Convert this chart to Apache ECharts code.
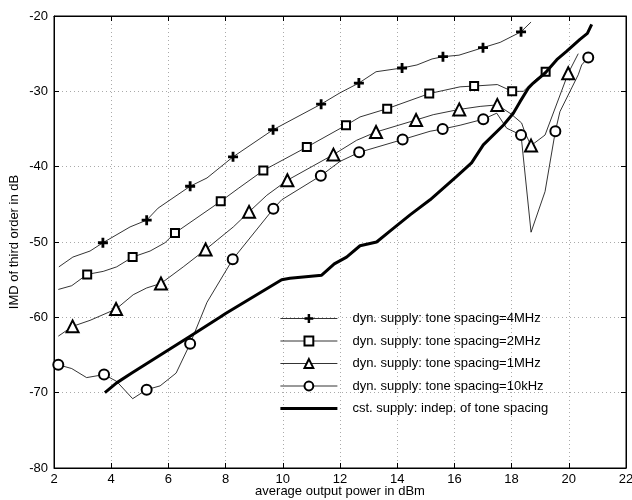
<!DOCTYPE html>
<html>
<head>
<meta charset="utf-8">
<script src="https://cdn.jsdelivr.net/npm/echarts@6/dist/echarts.min.js"></script>
<style>
  html, body { margin: 0; padding: 0; background: #fff; }
  #chart { width: 632px; height: 500px; }
</style>
</head>
<body>
<div id="chart"></div>
<script>
// IMD vs puissance de sortie : 4 courbes "dyn. supply" + 1 courbe "cst. supply"
const xTicks = [2, 4, 6, 8, 10, 12, 14, 16, 18, 20, 22];
const yTicks = [-80, -70, -60, -50, -40, -30, -20];

const noms = [
  "dyn. supply: tone spacing=4MHz",
  "dyn. supply: tone spacing=2MHz",
  "dyn. supply: tone spacing=1MHz",
  "dyn. supply: tone spacing=10kHz",
  "cst. supply: indep. of tone spacing",
];

// 4 MHz (+)
const x4 = [2.17, 2.66, 3.26, 3.71, 4.66, 5.24, 5.64, 6.76, 7.35, 8.26, 9.66, 11.34, 12.0, 12.66, 13.26, 14.17, 14.69, 15.22, 15.6, 16.16, 17.0, 17.6, 18.33, 18.68];
const y4 = [-53.3, -52.0, -51.2, -50.1, -48.0, -47.1, -45.5, -42.6, -41.5, -38.7, -35.1, -31.7, -30.2, -28.9, -27.4, -26.9, -26.5, -25.7, -25.4, -25.2, -24.2, -23.5, -22.1, -20.8];
const m4 = [0, 0, 0, 1, 0, 1, 0, 1, 0, 1, 1, 1, 0, 1, 0, 1, 0, 0, 1, 0, 1, 0, 1, 0];

// 2 MHz (carrés)
const x2 = [2.15, 2.62, 3.16, 3.72, 4.19, 4.75, 5.36, 5.88, 6.23, 7.83, 8.44, 9.32, 10.84, 12.21, 12.7, 13.65, 15.12, 16.2, 16.69, 17.5, 18.02, 18.41, 18.76, 19.19];
const y2 = [-56.3, -55.8, -54.3, -53.9, -53.3, -52.0, -51.2, -50.1, -48.8, -44.6, -42.9, -40.5, -37.4, -34.5, -33.4, -32.3, -30.3, -29.4, -29.3, -29.1, -30.0, -30.0, -28.7, -27.4];
const m2 = [0, 0, 1, 0, 0, 1, 0, 0, 1, 1, 0, 1, 1, 1, 0, 1, 1, 0, 1, 0, 1, 0, 0, 1];

// 1 MHz (triangles)
const x1 = [2.15, 2.65, 3.26, 4.17, 4.77, 5.24, 5.74, 6.52, 7.3, 8.27, 8.82, 9.44, 10.16, 11.77, 12.58, 13.26, 14.66, 15.26, 16.17, 16.9, 17.5, 17.98, 18.35, 18.47, 18.68, 19.17, 19.98, 20.33];
const y1 = [-62.5, -61.2, -60.4, -58.9, -57.0, -56.1, -55.5, -53.3, -51.0, -48.0, -46.0, -43.8, -41.8, -38.4, -36.5, -35.4, -33.8, -33.1, -32.4, -32.0, -31.8, -33.0, -34.2, -35.5, -37.2, -35.8, -27.6, -25.0];
const m1 = [0, 1, 0, 1, 0, 0, 1, 0, 1, 0, 1, 0, 1, 1, 0, 1, 1, 0, 1, 0, 1, 0, 0, 0, 1, 0, 1, 0];

// 10 kHz (cercles)
const xc = [2.15, 2.62, 3.14, 3.75, 4.19, 4.75, 5.24, 5.71, 6.27, 6.76, 7.35, 8.25, 9.67, 9.96, 11.33, 12.0, 12.67, 14.19, 15.15, 15.59, 16.2, 17.01, 17.48, 17.83, 18.33, 18.68, 19.17, 19.53, 19.69, 20.33, 20.45, 20.68];
const yc = [-66.3, -66.8, -68.0, -67.6, -68.5, -70.8, -69.6, -69.1, -67.4, -63.5, -58.0, -52.3, -45.6, -44.4, -41.2, -39.3, -38.1, -36.4, -35.3, -35.0, -34.5, -33.7, -32.9, -34.9, -35.8, -48.7, -43.3, -35.3, -32.7, -27.8, -26.5, -25.5];
const mc = [1, 0, 0, 1, 0, 0, 1, 0, 0, 1, 0, 1, 1, 0, 1, 0, 1, 1, 0, 1, 0, 1, 0, 0, 1, 0, 0, 1, 0, 0, 0, 1];

// alimentation constante (trait épais)
const xt = [3.78, 4.19, 4.72, 6.76, 7.8, 8.0, 9.96, 10.25, 11.36, 11.8, 12.23, 12.7, 13.28, 13.8, 14.45, 15.15, 16.08, 16.6, 17.01, 17.71, 18.06, 18.29, 18.6, 18.76, 19.19, 19.58, 19.92, 20.39, 20.65, 20.8];
const yt = [-70.0, -68.7, -67.4, -62.5, -60.0, -59.5, -55.0, -54.8, -54.4, -52.9, -52.0, -50.5, -50.0, -48.4, -46.4, -44.4, -41.3, -39.5, -37.1, -34.5, -32.9, -31.4, -29.5, -28.9, -27.5, -25.8, -24.7, -23.1, -22.3, -21.1];

const police = "'Liberation Sans', Arial, Helvetica, sans-serif";
const plus = "path://M3.6,0H6.4V3.6H10V6.4H6.4V10H3.6V6.4H0V3.6H3.6Z";

function points(xs, ys, marks, symbole) {
  return xs.map((x, i) => ({
    value: [x, ys[i]],
    symbol: marks && marks[i] ? symbole : "none",
  }));
}

function courbe(nom, xs, ys, marks, symbole, taille, plein) {
  return {
    name: nom,
    type: "line",
    data: points(xs, ys, marks, symbole),
    symbol: symbole,
    symbolSize: taille,
    showAllSymbol: true,
    lineStyle: { color: "#000", width: 0.8 },
    itemStyle: plein
      ? { color: "#000", borderWidth: 0 }
      : { color: "#fff", borderColor: "#000", borderWidth: 2 },
    emphasis: { disabled: true },
    z: 3,
  };
}

const axeTick = { inside: true, length: 5, lineStyle: { color: "#000" } };
const grille = { show: true, lineStyle: { color: "#aaa", type: [1, 3], width: 1 } };

const chart = echarts.init(document.getElementById("chart"));
chart.setOption({
  animation: false,
  textStyle: { fontFamily: police, color: "#000" },
  grid: {
    left: 54, right: 6, top: 16, bottom: 32,
    outerBoundsMode: "none", containLabel: false,
    show: true, borderColor: "#000", borderWidth: 1,
  },
  xAxis: [
    {
      type: "value", min: xTicks[0], max: xTicks[xTicks.length - 1], interval: 2,
      name: "average output power in dBm", nameLocation: "middle", nameGap: 17,
      nameMoveOverlap: false,
      nameTextStyle: { fontSize: 13, color: "#000", fontFamily: police },
      axisLine: { lineStyle: { color: "#000" } },
      axisTick: axeTick,
      axisLabel: { fontSize: 13, color: "#000", margin: 5, fontFamily: police },
      splitLine: grille,
    },
    {
      type: "value", position: "top", min: xTicks[0], max: xTicks[xTicks.length - 1], interval: 2,
      axisLine: { lineStyle: { color: "#000" } }, axisTick: axeTick,
      axisLabel: { show: false }, splitLine: { show: false },
    },
  ],
  yAxis: [
    {
      type: "value", min: yTicks[0], max: yTicks[yTicks.length - 1], interval: 10,
      name: "IMD of third order in dB", nameLocation: "middle", nameGap: 33,
      nameMoveOverlap: false,
      nameTextStyle: { fontSize: 13, color: "#000", fontFamily: police },
      axisLine: { lineStyle: { color: "#000" } },
      axisTick: axeTick,
      axisLabel: { fontSize: 13, color: "#000", margin: 6, fontFamily: police },
      splitLine: grille,
    },
    {
      type: "value", position: "right", min: yTicks[0], max: yTicks[yTicks.length - 1], interval: 10,
      axisLine: { lineStyle: { color: "#000" } }, axisTick: axeTick,
      axisLabel: { show: false }, splitLine: { show: false },
    },
  ],
  legend: {
    orient: "vertical",
    left: 280,
    top: 312,
    padding: 0,
    itemWidth: 57,
    itemHeight: 11,
    itemGap: 9.5,
    data: [
      { name: noms[0], lineStyle: { width: 0.8 } },
      { name: noms[1], lineStyle: { width: 0.8 } },
      { name: noms[2], lineStyle: { width: 0.8 } },
      { name: noms[3], lineStyle: { width: 0.8 } },
      { name: noms[4], icon: "path://M0,0H19V1H0Z" },
    ],
    textStyle: { fontSize: 13, color: "#000", fontFamily: police, padding: [0, 0, 0, 10] },
    selectedMode: false,
  },
  series: [
    courbe(noms[0], x4, y4, m4, plus, 10, true),
    courbe(noms[1], x2, y2, m2, "rect", 8, false),
    courbe(noms[2], x1, y1, m1, "triangle", 12, false),
    courbe(noms[3], xc, yc, mc, "circle", 10, false),
    {
      name: noms[4],
      type: "line",
      data: points(xt, yt, null, "none"),
      symbol: "none",
      lineStyle: { color: "#000", width: 3 },
      itemStyle: { color: "#000" },
      emphasis: { disabled: true },
      z: 4,
    },
  ],
});
</script>
</body>
</html>
